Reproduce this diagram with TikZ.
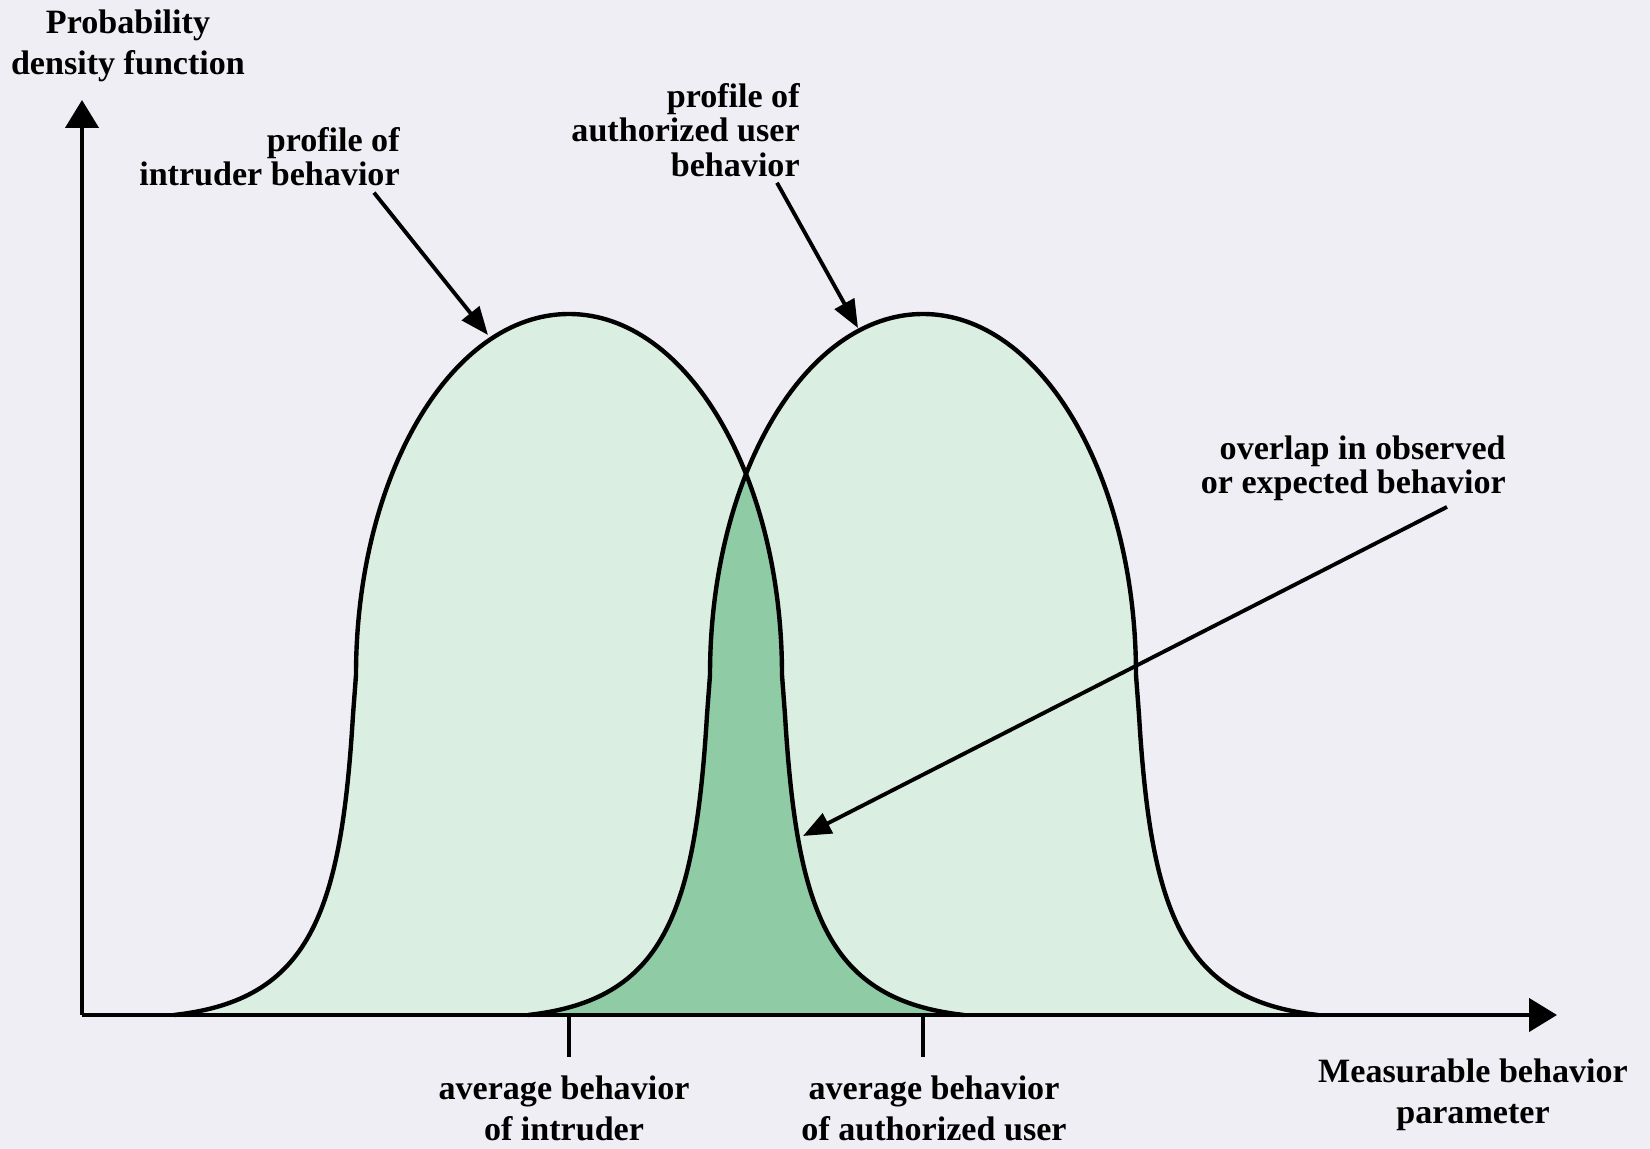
\documentclass[tikz,border=0pt]{standalone}
\usepackage{fontspec}
\setmainfont{Liberation Serif}
\usetikzlibrary{arrows.meta,calc}
\definecolor{paper}{HTML}{EFEEF4}
\definecolor{lightg}{HTML}{DAEEE1}
\definecolor{darkg}{HTML}{8FCBA4}
\newcommand{\bell}[1]{(#1-395,0) .. controls (#1-260,15) and (#1-228,100) .. (#1-216,300) -- (#1-213,340) .. controls (#1-213,539) and (#1-118,701) .. (#1,701) .. controls (#1+118,701) and (#1+213,539) .. (#1+213,340) -- (#1+216,300) .. controls (#1+228,100) and (#1+260,15) .. (#1+395,0)}
\tikzset{
	txt/.style={font=\bfseries\fontsize{19.4}{19.5}\selectfont,inner sep=0pt,align=right,anchor=east},
	txtwide/.style={font=\bfseries\fontsize{19.4}{23.3}\selectfont,inner sep=0pt,align=center},
	pointer/.style={line width=2.2pt,-{Triangle[length=0.56cm,width=0.44cm]}},
	axis/.style={line width=2.5pt,-{Triangle[length=0.56cm,width=0.66cm]}}
}
\begin{document}
\begin{tikzpicture}[x=0.02cm,y=0.02cm]
					\fill[paper] (-82,-134) rectangle (1568,1015);
					\fill[lightg] \bell{487} -- cycle;
					\fill[lightg] \bell{841} -- cycle;
					\begin{scope}
						\clip \bell{487} -- cycle;
						\fill[darkg] \bell{841} -- cycle;
					\end{scope}
					\draw[line width=2.5pt] \bell{487};
					\draw[line width=2.5pt] \bell{841};
					\coordinate (O) at (0,0);
					\coordinate (ytop) at (0,915);
					\coordinate (xend) at (1475,0);
					\coordinate (avgi-t) at (487,0);
					\coordinate (avga-t) at (841,0);
					\draw[axis] (O)--(ytop);
					\draw[axis] (O)--(xend);
					\draw[line width=2.5pt] (avgi-t)--++(0,-42);
					\draw[line width=2.5pt] (avga-t)--++(0,-42);
					\node[txtwide] (pdf) at (46,969) {Probability\\density function};
					\node[txt] (intr) at (318,858) {profile of\\intruder behavior};
					\node[txt] (auth) at (718,885) {profile of\\authorized user\\behavior};
					\node[txt] (ovl) at (1424,547) {overlap in observed\\or expected behavior};
					\node[txtwide] (avgi) at (482,-93) {average behavior\\of intruder};
					\node[txtwide] (avga) at (852,-93) {average behavior\\of authorized user};
					\node[txtwide] (mbp) at (1391,-80) {Measurable behavior\\parameter};
					\coordinate (intr-p) at (406,680);
					\coordinate (auth-p) at (776,687);
					\coordinate (ovl-p) at (721,179);
					\draw[pointer] ($(intr.south east)+(-26,-6)$)--(intr-p);
					\draw[pointer] ($(auth.south east)+(-23,-6)$)--(auth-p);
					\draw[pointer] ($(ovl.south east)+(-59,-6)$)--(ovl-p);
				\end{tikzpicture}
\end{document}
